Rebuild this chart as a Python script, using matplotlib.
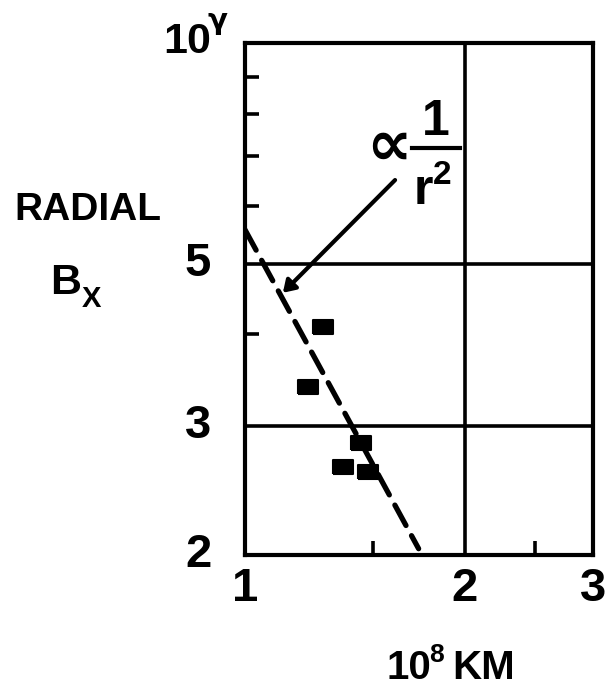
import matplotlib
matplotlib.use("Agg")
import matplotlib.pyplot as plt
from matplotlib.lines import Line2D
from matplotlib import font_manager
import matplotlib.transforms as mtransforms

# data
point_r = [1.279, 1.220, 1.442, 1.362, 1.474]
point_b = [4.10, 3.39, 2.84, 2.64, 2.60]
fit_r = [1.0, 1.73]
fit_b = [5.56, 2.04]
grid_r = [2]
grid_b = [3, 5]
ytick_vals = [2, 3, 5]
ytick_text = ['2', '3', '5']
xtick_vals = [1, 2, 3]
xtick_text = ['1', '2', '3']
minor_y = [4, 6, 7, 8, 9]
minor_x = [1.5, 2.5]
arrow_from = (1.606, 6.50)
arrow_to = (1.127, 4.56)

names = {f.name for f in font_manager.fontManager.ttflist}
narrow = 'Liberation Sans Narrow' if 'Liberation Sans Narrow' in names else 'Liberation Sans'
NARROW = [narrow, 'DejaVu Sans']
WIDE = ['Liberation Sans', 'DejaVu Sans']

W, H = 607, 696
fig = plt.figure(figsize=(W / 100, H / 100), dpi=100)


def fpos(x, y):
    return x / W, 1 - y / H


def ftext(x, y, s, size, fam=NARROW, **kw):
    fig.text(*fpos(x, y), s, fontsize=size, family=fam, fontweight='bold',
             ha='center', va='center', **kw)


ax = fig.add_axes([245 / W, 1 - 555 / H, 348 / W, 512 / H])
ax.set_xscale('log')
ax.set_yscale('log')
ax.set_xlim(1, 3)
ax.set_ylim(2, 10)

for s in ax.spines.values():
    s.set_linewidth(3)
for g in grid_r:
    ax.axvline(g, color='k', lw=2.6)
for g in grid_b:
    ax.axhline(g, color='k', lw=2.6)

ax.set_xticks(minor_x, minor=False)
ax.set_yticks(minor_y, minor=False)
ax.set_xticks([], minor=True)
ax.set_yticks([], minor=True)
ax.set_xticklabels([])
ax.set_yticklabels([])
ax.tick_params(direction='in', length=10, width=2.6, top=False, right=False)

# dashed 1/r^2 line
ax.plot(fit_r, fit_b, color='k', lw=3.8, dashes=(4.4, 2.2), solid_capstyle='round',
        dash_capstyle='round')

# points as small flat rectangles
rect = [(-1, -0.7), (1, -0.7), (1, 0.7), (-1, 0.7), (-1, -0.7)]
ax.plot(point_r, point_b, ls='none', marker=rect, markersize=15, color='k',
        markeredgewidth=1.5, markeredgecolor='k')

ax.annotate('', xy=arrow_to, xytext=arrow_from,
            arrowprops=dict(arrowstyle='-|>,head_length=0.7,head_width=0.45',
                            lw=3, color='k', shrinkA=0, shrinkB=0))

# tick labels
ty = mtransforms.blended_transform_factory(ax.transAxes, ax.transData)
for v, t in zip(ytick_vals, ytick_text):
    ax.text(-0.135, v, t, transform=ty, fontsize=34, family=WIDE, fontweight='bold',
            ha='center', va='center')
tx = mtransforms.blended_transform_factory(ax.transData, ax.transAxes)
for v, t in zip(xtick_vals, xtick_text):
    ax.text(v, -0.066, t, transform=tx, fontsize=34, family=WIDE, fontweight='bold',
            ha='center', va='center', clip_on=False)

ftext(187, 42, '10', 31)
ftext(218, 21, 'γ', 21, fam=['DejaVu Sans'])

# y label
ftext(88, 210, 'RADIAL', 28)
ftext(66, 283, 'B', 31)
ftext(91, 299, 'X', 21)

# x label
ftext(409, 668, '10', 29)
ftext(437, 655, '8', 19)
ftext(484, 668, 'KM', 29)

# proportionality note
ftext(389, 147, '∝', 46, fam=['DejaVu Sans'])
ftext(436, 122, '1', 36)
fig.add_artist(Line2D([412 / W, 460 / W], [1 - 148 / H, 1 - 148 / H], color='k', lw=3,
                      transform=fig.transFigure))
ftext(423, 191, 'r', 36)
ftext(442, 176, '2', 24)

fig.savefig('out.png', dpi=100)
